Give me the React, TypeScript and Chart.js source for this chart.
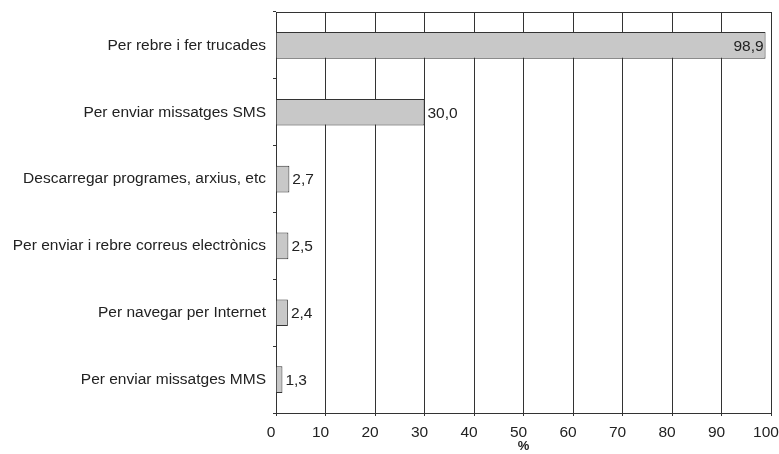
import React, { useEffect, useRef } from "react";
import { Chart, registerables } from "chart.js";

Chart.register(...registerables);

const categories = [
  "Per rebre i fer trucades",
  "Per enviar missatges SMS",
  "Descarregar programes, arxius, etc",
  "Per enviar i rebre correus electrònics",
  "Per navegar per Internet",
  "Per enviar missatges MMS",
];
const values = [98.9, 30.0, 2.7, 2.5, 2.4, 1.3];
const axisTitle = "%";

const FONT = "'Liberation Sans', Arial, Helvetica, sans-serif";
const FS = 15.5;

const frameAndLabels = {
  id: "frameAndLabels",
  afterDatasetsDraw(chart: any) {
    const { ctx, chartArea } = chart;
    ctx.save();
    ctx.strokeStyle = "#333";
    ctx.lineWidth = 1;
    ctx.beginPath();
    ctx.moveTo(Math.round(chartArea.left) + 0.5, Math.round(chartArea.top) + 0.5);
    ctx.lineTo(Math.round(chartArea.right) + 0.5, Math.round(chartArea.top) + 0.5);
    ctx.stroke();
    const meta = chart.getDatasetMeta(0);
    ctx.font = `${FS}px ${FONT}`;
    ctx.fillStyle = "#222";
    ctx.textBaseline = "middle";
    meta.data.forEach((el: any, i: number) => {
      const v = values[i];
      const txt = v.toFixed(1).replace(".", ",");
      if (v > 90) {
        ctx.textAlign = "right";
        ctx.fillText(txt, el.x - 2, el.y + 1);
      } else {
        ctx.textAlign = "left";
        ctx.fillText(txt, el.x + 3, el.y + 1);
      }
    });
    ctx.restore();
  },
};

export default function App() {
  const ref = useRef<HTMLCanvasElement | null>(null);
  useEffect(() => {
    if (!ref.current) return;
    const chart = new Chart(ref.current, {
      type: "bar",
      data: {
        labels: categories,
        datasets: [
          {
            data: values,
            backgroundColor: "#c8c8c8",
            borderColor: "#333",
            borderWidth: 1,
            barPercentage: 0.4,
            categoryPercentage: 1,
          },
        ],
      },
      options: {
        indexAxis: "y",
        animation: false,
        responsive: false,
        devicePixelRatio: 1,
        layout: { padding: { top: 12, right: 8, left: 0, bottom: 0 } },
        plugins: { legend: { display: false }, tooltip: { enabled: false } },
        scales: {
          x: {
            min: 0,
            max: 100,
            ticks: {
              stepSize: 10,
              color: "#222",
              font: { family: FONT, size: FS },
              padding: 7,
              labelOffset: -5,
            },
            grid: { color: "#333", lineWidth: 1, tickLength: 3, tickColor: "#333" },
            border: { color: "#333", width: 1 },
            title: {
              display: true,
              text: axisTitle,
              color: "#222",
              font: { family: FONT, size: 13, weight: "bold" },
              padding: { top: -5, bottom: 0 },
            },
            afterFit(scale: any) {
              scale.height = 41;
              scale.paddingLeft = 0;
              scale.paddingRight = 0;
            },
          },
          y: {
            ticks: { color: "#222", font: { family: FONT, size: FS }, padding: 7 },
            grid: { drawOnChartArea: false, offset: true, tickLength: 3, tickColor: "#333", color: "#333" },
            border: { color: "#333", width: 1 },
            afterFit(scale: any) {
              scale.width = 276;
              scale.paddingTop = 0;
              scale.paddingBottom = 0;
            },
          },
        },
      },
      plugins: [frameAndLabels],
    });
    return () => chart.destroy();
  }, []);
  return (
    <div style={{ position: "fixed", left: 0, top: 0, width: 779, height: 454, background: "#fff" }}>
      <canvas ref={ref} width={779} height={454} style={{ display: "block" }} />
    </div>
  );
}
